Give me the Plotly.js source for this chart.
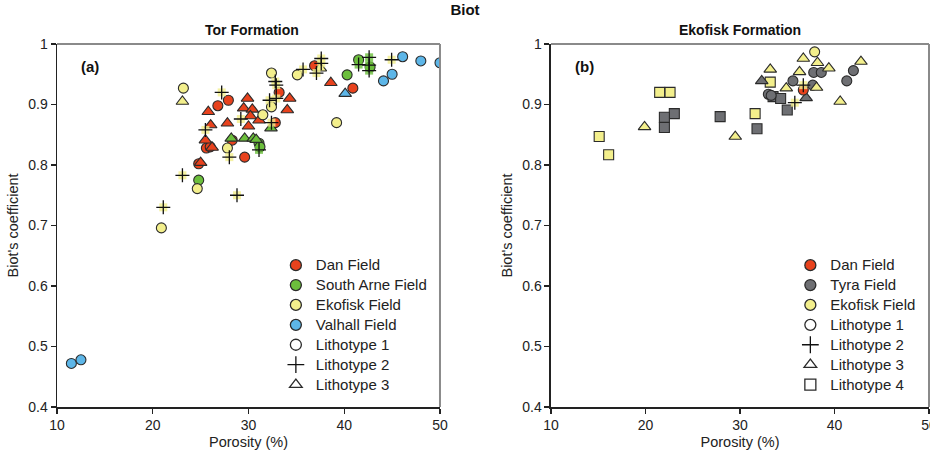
<!DOCTYPE html>
<html><head><meta charset="utf-8">
<script src="https://cdn.plot.ly/plotly-3.0.1.min.js"></script>
<style>html,body{margin:0;padding:0;background:#fff}#chart{width:930px;height:455px}</style>
</head><body><div id="chart"></div>
<script>
// ---------- DATA ----------
const X_TICKS = [10, 20, 30, 40, 50];
const Y_TICKS = [0.4, 0.5, 0.6, 0.7, 0.8, 0.9, 1];

// Panel (a) Tor Formation
const torDanL1_x = [27.9, 26.8, 25.6, 26.0, 24.8, 28.3, 29.6, 33.2, 32.8, 36.9, 40.9];
const torDanL1_y = [0.907, 0.898, 0.828, 0.830, 0.802, 0.841, 0.813, 0.920, 0.870, 0.964, 0.927];
const torDanL3_x = [25.8, 26.05, 27.8, 25.5, 26.2, 25.0, 29.9, 29.5, 30.4, 30.2, 30.0, 31.1, 34.3, 34.05, 38.6];
const torDanL3_y = [0.888, 0.866, 0.869, 0.841, 0.829, 0.804, 0.910, 0.894, 0.892, 0.881, 0.864, 0.874, 0.910, 0.891, 0.936];

const torSAL1_x = [24.8, 31.1, 31.2, 40.3, 41.5, 42.7];
const torSAL1_y = [0.775, 0.836, 0.830, 0.949, 0.974, 0.962];
const torSAL2_x = [31.1, 41.5, 42.6, 42.6, 42.6];
const torSAL2_y = [0.825, 0.966, 0.978, 0.965, 0.956];
const torSAL3_x = [28.2, 29.6, 30.5, 30.8, 32.35];
const torSAL3_y = [0.844, 0.844, 0.844, 0.842, 0.861];

const torEkoL1_x = [23.2, 27.8, 24.65, 20.9, 31.5, 32.4, 32.4, 35.1, 39.2];
const torEkoL1_y = [0.927, 0.828, 0.761, 0.696, 0.883, 0.952, 0.896, 0.949, 0.870];
const torEkoL2_x = [27.2, 25.5, 23.1, 28.8, 21.1, 28.0, 29.2, 32.8, 32.9, 32.2, 32.9, 32.4, 35.7, 37.6, 37.6, 37.1, 44.95];
const torEkoL2_y = [0.920, 0.858, 0.783, 0.750, 0.730, 0.813, 0.876, 0.938, 0.932, 0.907, 0.910, 0.870, 0.958, 0.976, 0.968, 0.952, 0.974];
const torEkoL3_x = [23.1, 37.5];
const torEkoL3_y = [0.905, 0.960];

const torValL1_x = [11.5, 12.5, 44.1, 45.0, 46.1, 48.0, 50.0];
const torValL1_y = [0.472, 0.478, 0.939, 0.950, 0.979, 0.972, 0.969];
const torValL3_x = [40.1];
const torValL3_y = [0.918];

// Panel (b) Ekofisk Formation
const ekoDanL1_x = [36.7];
const ekoDanL1_y = [0.924];

const ekoTyraL1_x = [37.8, 38.6, 42.0, 41.3, 35.6, 37.7, 33.0, 33.3];
const ekoTyraL1_y = [0.953, 0.953, 0.956, 0.939, 0.939, 0.932, 0.917, 0.915];
const ekoTyraL3_x = [32.3, 37.0];
const ekoTyraL3_y = [0.939, 0.911];
const ekoTyraL4_x = [23.05, 22.0, 22.0, 27.9, 33.5, 34.3, 35.0, 31.8];
const ekoTyraL4_y = [0.885, 0.879, 0.862, 0.880, 0.913, 0.910, 0.891, 0.860];

const ekoEkoL1_x = [37.9];
const ekoEkoL1_y = [0.987];
const ekoEkoL2_x = [36.7, 35.8];
const ekoEkoL2_y = [0.932, 0.903];
const ekoEkoL3_x = [36.7, 38.2, 39.4, 42.8, 33.2, 36.3, 38.1, 34.9, 40.6, 19.9, 29.5];
const ekoEkoL3_y = [0.976, 0.969, 0.960, 0.971, 0.958, 0.954, 0.928, 0.927, 0.905, 0.863, 0.847];
const ekoEkoL4_x = [21.5, 22.6, 15.1, 16.1, 33.2, 31.6];
const ekoEkoL4_y = [0.920, 0.920, 0.847, 0.817, 0.937, 0.885];

const leftLegend = ["Dan Field", "South Arne Field", "Ekofisk Field", "Valhall Field", "Lithotype 1", "Lithotype 2", "Lithotype 3"];
const rightLegend = ["Dan Field", "Tyra Field", "Ekofisk Field", "Lithotype 1", "Lithotype 2", "Lithotype 3", "Lithotype 4"];

// ---------- STYLE ----------
const C = {dan: "#e8421d", sa: "#6cbf3c", eko: "#f3ef8c", val: "#5db6e8", tyra: "#6e6f73"};
const EDGE = "#2b2b2b";
const FONT = "Liberation Sans, Arial, sans-serif";
const FS = 14.5;

const traces = [];
function pts(x, y, color, sym, xa, ya) {
  if (sym === "cross") {
    traces.push({type: "scatter", mode: "markers", x, y, xaxis: xa, yaxis: ya, showlegend: false, hoverinfo: "skip",
      marker: {symbol: "square", size: 8, color: color, opacity: 0.8, line: {width: 0}}});
    traces.push({type: "scatter", mode: "markers", x, y, xaxis: xa, yaxis: ya, showlegend: false,
      marker: {symbol: "cross-thin", size: 10, color: "#111", line: {width: 1.3, color: "#111"}}});
  } else {
    const size = sym === "triangle-up" ? 11 : 10;
    traces.push({type: "scatter", mode: "markers", x, y, xaxis: xa, yaxis: ya, showlegend: false,
      marker: {symbol: sym, size: size, color: color, line: {width: 1.1, color: EDGE}}});
  }
}
// panel a
pts(torDanL1_x, torDanL1_y, C.dan, "circle", "x", "y");
pts(torDanL3_x, torDanL3_y, C.dan, "triangle-up", "x", "y");
pts(torSAL1_x, torSAL1_y, C.sa, "circle", "x", "y");
pts(torSAL3_x, torSAL3_y, C.sa, "triangle-up", "x", "y");
pts(torEkoL1_x, torEkoL1_y, C.eko, "circle", "x", "y");
pts(torEkoL3_x, torEkoL3_y, C.eko, "triangle-up", "x", "y");
pts(torValL1_x, torValL1_y, C.val, "circle", "x", "y");
pts(torValL3_x, torValL3_y, C.val, "triangle-up", "x", "y");
pts(torSAL2_x, torSAL2_y, C.sa, "cross", "x", "y");
pts(torEkoL2_x, torEkoL2_y, C.eko, "cross", "x", "y");
// panel b
pts(ekoTyraL4_x, ekoTyraL4_y, C.tyra, "square", "x2", "y2");
pts(ekoEkoL4_x, ekoEkoL4_y, C.eko, "square", "x2", "y2");
pts(ekoTyraL1_x, ekoTyraL1_y, C.tyra, "circle", "x2", "y2");
pts(ekoTyraL3_x, ekoTyraL3_y, C.tyra, "triangle-up", "x2", "y2");
pts(ekoEkoL3_x, ekoEkoL3_y, C.eko, "triangle-up", "x2", "y2");
pts(ekoEkoL1_x, ekoEkoL1_y, C.eko, "circle", "x2", "y2");
pts(ekoDanL1_x, ekoDanL1_y, C.dan, "circle", "x2", "y2");
pts(ekoEkoL2_x, ekoEkoL2_y, C.eko, "cross", "x2", "y2");

// legend entries
function legendMarker(name, sym, color, legend, xa, ya) {
  const m = sym === "cross-thin"
    ? {symbol: "cross-thin", size: 12, color: "#111", line: {width: 1.3, color: "#111"}}
    : {symbol: sym, size: 11, color: color, line: {width: 1.3, color: EDGE}};
  traces.push({type: "scatter", mode: "markers", x: [null], y: [null], xaxis: xa, yaxis: ya,
    name: "<span style='font-size:15px'>" + name + "</span>", legend: legend, marker: m, showlegend: true});
}
const leftSyms = [["circle", C.dan], ["circle", C.sa], ["circle", C.eko], ["circle", C.val],
  ["circle", "#fff"], ["cross-thin", "#111"], ["triangle-up", "#fff"]];
leftLegend.forEach((n, i) => legendMarker(n, leftSyms[i][0], leftSyms[i][1], "legend", "x", "y"));
const rightSyms = [["circle", C.dan], ["circle", C.tyra], ["circle", C.eko], ["circle", "#fff"],
  ["cross-thin", "#111"], ["triangle-up", "#fff"], ["square", "#fff"]];
rightLegend.forEach((n, i) => legendMarker(n, rightSyms[i][0], rightSyms[i][1], "legend2", "x2", "y2"));

const axBase = {
  showgrid: false, zeroline: false, showline: true, linecolor: "#222", linewidth: 1.5,
  ticks: "outside", ticklen: 5, tickcolor: "#222", tickwidth: 1.3, ticklabeloverflow: "allow",
  tickfont: {family: FONT, size: 14, color: "#222"}, mirror: false
};
const xaxBase = Object.assign({}, axBase, {range: [10, 50], tickvals: X_TICKS, ticktext: X_TICKS.map(String),
  title: {text: "Porosity (%)", font: {family: FONT, size: FS, color: "#222"}, standoff: 4}});
const yaxBase = Object.assign({}, axBase, {range: [0.4, 1], tickvals: Y_TICKS, ticktext: Y_TICKS.map(String),
  title: {text: "Biot's coefficient", font: {family: FONT, size: FS, color: "#222"}, standoff: 6}});

const legBase = {bgcolor: "rgba(0,0,0,0)", borderwidth: 0, font: {family: FONT, size: 13, color: "#222"},
  itemclick: false, itemdoubleclick: false, xanchor: "left", yanchor: "top"};

const borderShapes = [];
[["x", "y"], ["x2", "y2"]].forEach(([xa, ya]) => {
  borderShapes.push({type: "line", xref: xa + " domain", yref: ya + " domain", x0: 0, x1: 1, y0: 1, y1: 1,
    line: {color: "#8a8a8a", width: 2}});
  borderShapes.push({type: "line", xref: xa + " domain", yref: ya + " domain", x0: 1, x1: 1, y0: 0, y1: 1,
    line: {color: "#8a8a8a", width: 2}});
});

const layout = {
  width: 930, height: 455,
  margin: {l: 57, r: 1, t: 44, b: 48},
  paper_bgcolor: "#fff", plot_bgcolor: "#fff",
  font: {family: FONT, color: "#222"},
  title: {text: "<b>Biot</b>", x: 0.5, xref: "container", xanchor: "center", y: 0.99, yanchor: "top",
    font: {family: FONT, size: 15, color: "#111"}},
  xaxis: Object.assign({}, xaxBase, {domain: [0, 0.4392], anchor: "y"}),
  yaxis: Object.assign({}, yaxBase, {domain: [0, 1], anchor: "x"}),
  xaxis2: Object.assign({}, xaxBase, {domain: [0.5665, 1], anchor: "y2"}),
  yaxis2: Object.assign({}, yaxBase, {domain: [0, 1], anchor: "x2"}),
  legend: Object.assign({}, legBase, {x: 0.251, y: 0.432}),
  legend2: Object.assign({}, legBase, {x: 0.841, y: 0.432}),
  shapes: borderShapes,
  annotations: [
    {text: "<b>Tor Formation</b>", xref: "x domain", yref: "paper", x: 0.509, y: 1, yanchor: "bottom", yshift: 4,
      showarrow: false, font: {family: FONT, size: 14, color: "#111"}},
    {text: "<b>Ekofisk Formation</b>", xref: "x2 domain", yref: "paper", x: 0.5, y: 1, yanchor: "bottom", yshift: 4,
      showarrow: false, font: {family: FONT, size: 14, color: "#111"}},
    {text: "<b>(a)</b>", xref: "x domain", yref: "y domain", x: 0.058, y: 0.937, xanchor: "left", yanchor: "middle",
      showarrow: false, font: {family: FONT, size: 15, color: "#111"}},
    {text: "<b>(b)</b>", xref: "x2 domain", yref: "y2 domain", x: 0.058, y: 0.937, xanchor: "left", yanchor: "middle",
      showarrow: false, font: {family: FONT, size: 15, color: "#111"}}
  ]
};

Plotly.newPlot("chart", traces, layout, {displayModeBar: false, staticPlot: true});
</script></body></html>
